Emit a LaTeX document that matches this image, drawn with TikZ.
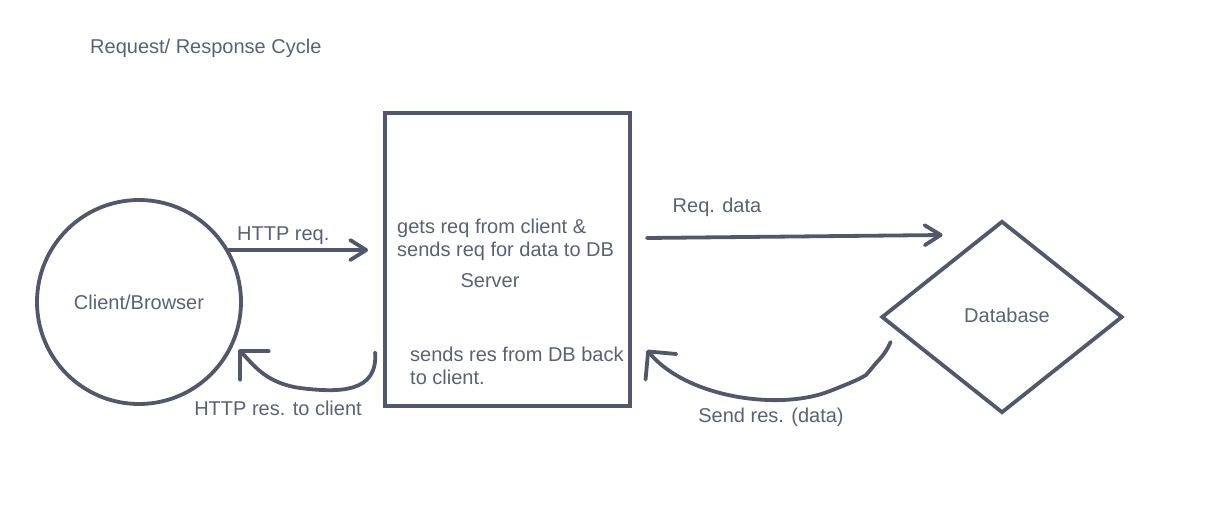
\documentclass[tikz,border=0pt]{standalone}
\usepackage{fontspec}
\setmainfont{Liberation Sans}
\usetikzlibrary{shapes.geometric,arrows.meta,calc}
\definecolor{inkline}{RGB}{82,88,106}
\definecolor{inktext}{RGB}{92,98,114}

\begin{document}
\begin{tikzpicture}[x=1pt,y=-1pt,
	shape line/.style={draw=inkline,line width=3.8pt},
	conn/.style={draw=inkline,line width=3.8pt,line cap=round},
	barb/.style={-{Straight Barb[length=16pt,width=20pt,round]}},
	bigbarb/.style={-{Straight Barb[length=20pt,width=40pt,round]}},
	lbl/.style={text=inktext,font=\fontsize{20}{24}\selectfont,inner sep=0pt}]
	\useasboundingbox[fill=white] (0,0) rectangle (1213,513);

	% title
	\node[lbl,anchor=west] (title) at (90,48) {Request/ Response Cycle};

	% the three parts
	\node[shape line,circle,minimum size=204pt,lbl] (client) at (139,302) {Client/Browser};
	\node[shape line,rectangle,minimum width=245pt,minimum height=293pt] (server) at (507.5,259.5) {};
	\node[shape line,diamond,minimum width=241pt,minimum height=192pt] (db) at (1002,317) {};
	\node[lbl] (dblbl) at (1007,315) {Database};

	% text in the server box
	\node[lbl,anchor=west] (gets) at (397,228) {gets req from client \&};
	\node[lbl,anchor=west] (sends) at (397,251) {sends req for data to DB};
	\node[lbl] (srv) at (490,281) {Server};
	\node[lbl,anchor=west] (back) at (410,354) {sends res from DB back};
	\node[lbl,anchor=west] (toc) at (410,377) {to client.};

	% loose ends of the arrows
	\coordinate (reqin) at ($(server.west)+(-15,-10)$);
	\coordinate (resout) at ($(server.west)+(-8,93)$);
	\coordinate (resin) at ($(client.center)+(100,48)$);
	\coordinate (dataout) at ($(server.east)+(15,-21.5)$);
	\coordinate (datain) at ($(db.west)+(63,-82)$);
	\coordinate (sendout) at ($(db.west)+(11,25)$);
	\coordinate (sendin) at ($(server.east)+(15,90.5)$);

	% client -> server
	\draw[conn,barb] (client.30) -- (client.30 -| reqin);
	\node[lbl,anchor=west] (reqlbl) at (237,236) {HTTP req.};

	% server -> client
	\draw[conn,bigbarb] (resout) .. controls +(3,40) and +(40,5) .. (300,388)
		.. controls +(-35,-5) and +(14,14) .. (resin);
	\node[lbl] (reslbl) at (278,408) {HTTP res. to client};

	% server -> database
	\draw[conn,barb] (dataout) -- (datain);
	\node[lbl] (datalbl) at (717,207) {Req. data};

	% database -> server
	\draw[conn,bigbarb] (sendout) .. controls +(-6,14) and +(6,-8) .. (872,368)
		-- (866,375)
		.. controls +(-8,5) and +(20,-8) .. (830,391)
		.. controls +(-50,20) and +(40,48) .. (sendin);
	\node[lbl] (sendlbl) at (771,417) {Send res. (data)};
\end{tikzpicture}
\end{document}
